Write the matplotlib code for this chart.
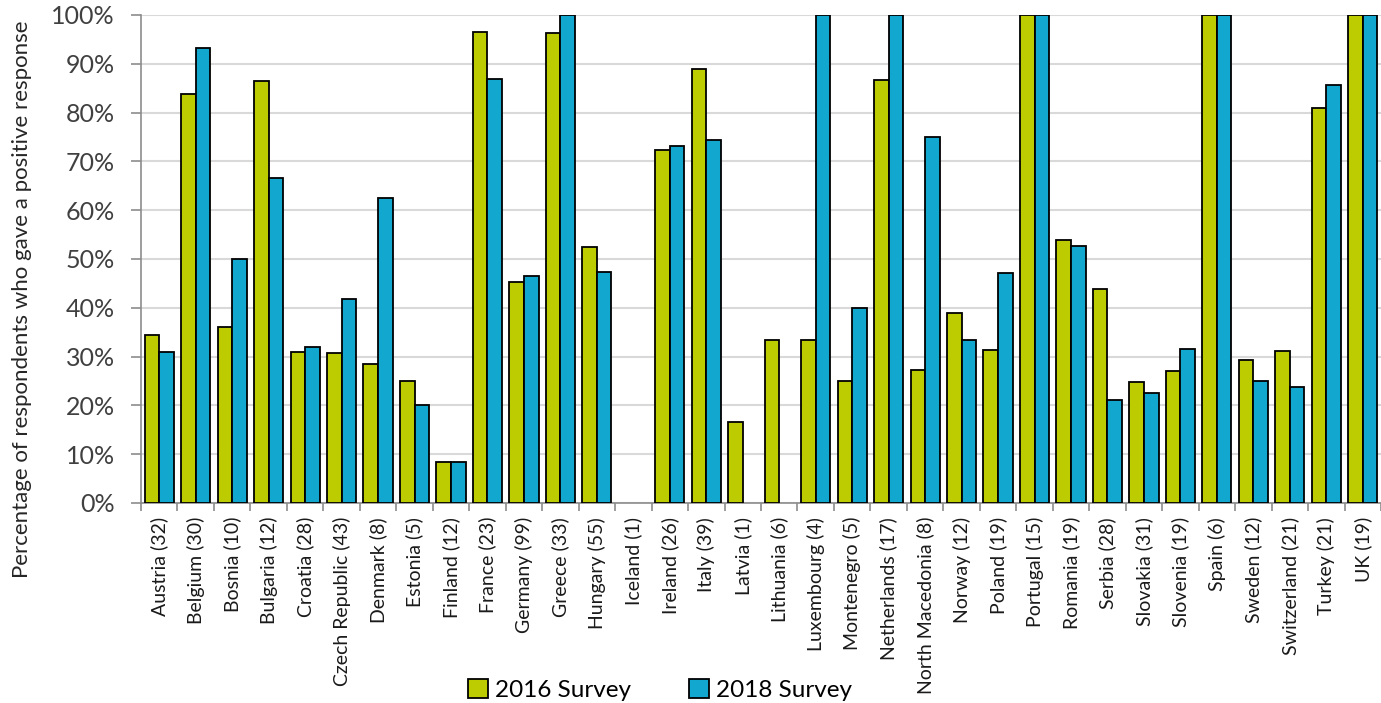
import matplotlib.pyplot as plt
import numpy as np
from matplotlib.patches import Patch
from matplotlib.ticker import FuncFormatter

plt.rcParams['font.family'] = ['Lato', 'DejaVu Sans']

# Data
countries = ['Austria (32)', 'Belgium (30)', 'Bosnia (10)', 'Bulgaria (12)', 'Croatia (28)',
             'Czech Republic (43)', 'Denmark (8)', 'Estonia (5)', 'Finland (12)', 'France (23)',
             'Germany (99)', 'Greece (33)', 'Hungary (55)', 'Iceland (1)', 'Ireland (26)',
             'Italy (39)', 'Latvia (1)', 'Lithuania (6)', 'Luxembourg (4)', 'Montenegro (5)',
             'Netherlands (17)', 'North Macedonia (8)', 'Norway (12)', 'Poland (19)',
             'Portugal (15)', 'Romania (19)', 'Serbia (28)', 'Slovakia (31)', 'Slovenia (19)',
             'Spain (6)', 'Sweden (12)', 'Switzerland (21)', 'Turkey (21)', 'UK (19)']

survey_2016 = [34.4, 83.8, 36.1, 86.5, 31.0, 30.7, 28.4, 25.0, 8.3, 96.5,
               45.3, 96.3, 52.5, 0.0, 72.4, 88.9, 16.7, 33.3, 33.3, 25.0,
               86.7, 27.3, 38.9, 31.3, 100.0, 53.8, 43.9, 24.8, 27.1, 100.0,
               29.3, 31.1, 81.0, 100.0]
survey_2018 = [31.0, 93.2, 50.0, 66.7, 31.9, 41.8, 62.5, 20.0, 8.3, 86.9,
               46.5, 100.0, 47.3, 0.0, 73.1, 74.4, 0.0, 0.0, 100.0, 40.0,
               100.0, 75.0, 33.3, 47.2, 100.0, 52.6, 21.2, 22.5, 31.5, 100.0,
               24.9, 23.7, 85.7, 100.0]

green = '#BDCC00'
blue = '#12A7CF'

fig = plt.figure(figsize=(13.81, 7.03), dpi=100)
ax = fig.add_axes([141 / 1381, 200 / 703, 1240 / 1381, 488 / 703])

x = np.arange(len(countries))
w = 0.4
bars1 = ax.bar(x - w / 2, survey_2016, w, color=green, edgecolor='black', linewidth=1.3, zorder=3)
bars2 = ax.bar(x + w / 2, survey_2018, w, color=blue, edgecolor='black', linewidth=1.3, zorder=3)

# empty bars draw no outline
for bars in [bars1, bars2]:
    for bar in bars:
        if bar.get_height() == 0:
            bar.set_edgecolor('none')

ax.set_xlim(-0.5, -0.5 + 1240 / 36.6)
ax.set_ylim(0, 100)
ax.set_yticks(np.arange(0, 101, 10))
ax.yaxis.set_major_formatter(FuncFormatter(lambda v, p: f'{v:.0f}%'))
ax.tick_params(axis='y', labelsize=18, colors='#8c8c8c', labelcolor='#404040', length=7, width=1.2, pad=12)
ax.grid(axis='y', color='#d9d9d9', linewidth=1.5, zorder=0)

ax.set_xticks(x)
ax.set_xticklabels(countries, rotation=90, fontsize=14, color='#1a1a1a')
ax.set_xticks(np.arange(-0.5, len(countries), 1), minor=True)
ax.tick_params(axis='x', which='major', length=0, pad=10)
ax.tick_params(axis='x', which='minor', length=6, width=1.2, color='#8c8c8c')

for side in ['top', 'right']:
    ax.spines[side].set_visible(False)
for side in ['left', 'bottom']:
    ax.spines[side].set_color('#8c8c8c')
    ax.spines[side].set_linewidth(1.2)

fig.text(22 / 1381, 1 - 299 / 703, 'Percentage of respondents who gave a positive response',
         rotation=90, ha='center', va='center', fontsize=16, color='#262626')

handles = [Patch(facecolor=green, edgecolor='black', linewidth=1.3, label='2016 Survey'),
           Patch(facecolor=blue, edgecolor='black', linewidth=1.3, label='2018 Survey')]
fig.legend(handles=handles, loc='center', bbox_to_anchor=(660 / 1381, 1 - 690 / 703), ncol=2,
           frameon=False, fontsize=17.5, handlelength=0.8, handleheight=0.8,
           handletextpad=0.3, columnspacing=2.4)

plt.savefig('out.png', dpi=100)
